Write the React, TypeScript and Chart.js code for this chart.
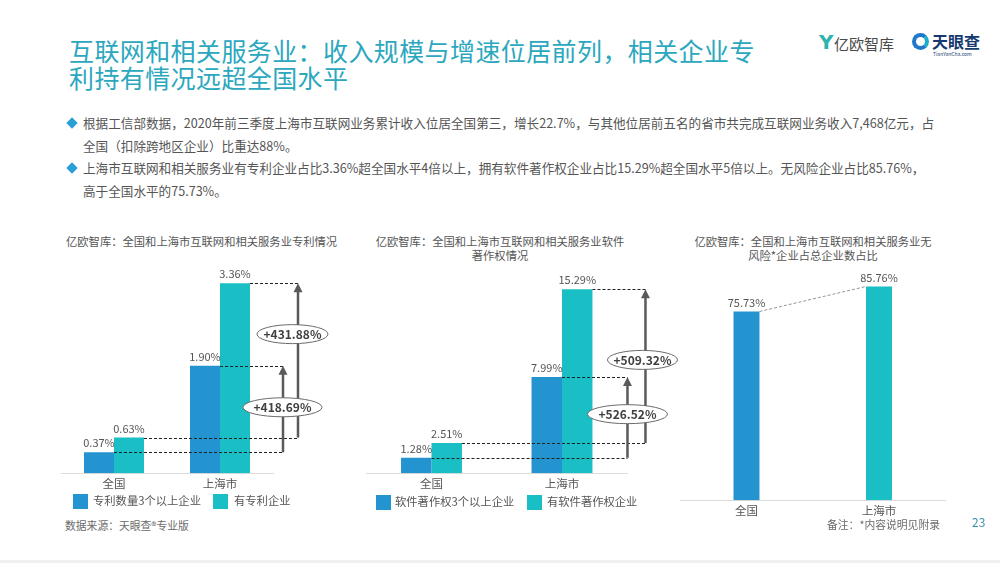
import React, { useEffect, useRef } from "react";
import { Chart, registerables } from "chart.js";
Chart.register(...registerables);

const FONT = '"Noto Sans CJK SC", "Noto Sans", sans-serif';
const BLUE = "#2394CF";
const TEAL = "#19BFC4";
const TEXT = "#555555";

// ---- data ----
const categories = ["全国", "上海市"];

const patentSeriesNames = ["专利数量3个以上企业", "有专利企业"];
const patentMulti = [0.37, 1.9];
const patentAny = [0.63, 3.36];
const patentGrowth = ["+418.69%", "+431.88%"];

const softSeriesNames = ["软件著作权3个以上企业", "有软件著作权企业"];
const softMulti = [1.28, 7.99];
const softAny = [2.51, 15.29];
const softGrowth = ["+526.52%", "+509.32%"];

const riskFreeShare = [75.73, 85.76];

// ---- plugins ----
const valueLabelPlugin = {
  id: "valueLabels",
  afterDatasetsDraw(chart: any) {
    const ctx = chart.ctx;
    ctx.save();
    ctx.font = `11px ${FONT}`;
    ctx.fillStyle = TEXT;
    ctx.textAlign = "center";
    ctx.textBaseline = "middle";
    chart.data.datasets.forEach((ds: any, i: number) => {
      const meta = chart.getDatasetMeta(i);
      meta.data.forEach((bar: any, j: number) => {
        ctx.fillText(Number(ds.data[j]).toFixed(2) + "%", bar.x, bar.y - 9);
      });
    });
    ctx.restore();
  },
};

const growthPlugin = {
  id: "growth",
  afterDatasetsDraw(chart: any, _args: any, opts: any) {
    if (!opts || !opts.labels) return;
    const ctx = chart.ctx;
    const n = chart.data.datasets.length;
    const lastMeta = chart.getDatasetMeta(n - 1);
    const ref = lastMeta.data[1];
    const refRight = ref.x + ref.width / 2;
    ctx.save();
    const arrows: any[] = [];
    for (let i = 0; i < n; i++) {
      const meta = chart.getDatasetMeta(i);
      const ax = refRight + opts.arrowOffsets[i];
      ctx.strokeStyle = "#222";
      ctx.lineWidth = 1;
      ctx.setLineDash([3, 2]);
      meta.data.forEach((bar: any) => {
        ctx.beginPath();
        ctx.moveTo(bar.x + bar.width / 2, Math.round(bar.y) + 0.5);
        ctx.lineTo(ax, Math.round(bar.y) + 0.5);
        ctx.stroke();
      });
      ctx.setLineDash([]);
      arrows.push({ ax, y0: meta.data[0].y, y1: meta.data[1].y });
    }
    arrows.forEach((a) => {
      ctx.strokeStyle = "#5a5a5a";
      ctx.fillStyle = "#5a5a5a";
      ctx.lineWidth = 2.5;
      ctx.beginPath();
      ctx.moveTo(a.ax, a.y0);
      ctx.lineTo(a.ax, a.y1 + 7);
      ctx.stroke();
      ctx.beginPath();
      ctx.moveTo(a.ax, a.y1);
      ctx.lineTo(a.ax - 4.5, a.y1 + 9);
      ctx.lineTo(a.ax + 4.5, a.y1 + 9);
      ctx.closePath();
      ctx.fill();
    });
    arrows.forEach((a, i) => {
      const cx = a.ax + opts.ellipseDx[i];
      const cy = a.y0 + opts.ellipseT[i] * (a.y1 - a.y0);
      ctx.beginPath();
      ctx.ellipse(cx, cy, opts.ellipseW[i] / 2, 9.5, 0, 0, Math.PI * 2);
      ctx.fillStyle = "#ffffff";
      ctx.fill();
      ctx.strokeStyle = "#6a6a6a";
      ctx.lineWidth = 1;
      ctx.stroke();
      ctx.fillStyle = "#404040";
      ctx.font = `bold 12px ${FONT}`;
      ctx.textAlign = "center";
      ctx.textBaseline = "middle";
      ctx.fillText(opts.labels[i], cx, cy + 0.5);
    });
    ctx.restore();
  },
};

const connectorPlugin = {
  id: "connector",
  afterDatasetsDraw(chart: any, _args: any, opts: any) {
    if (!opts || !opts.enabled) return;
    const ctx = chart.ctx;
    const meta = chart.getDatasetMeta(0);
    const a = meta.data[0];
    const b = meta.data[1];
    ctx.save();
    ctx.strokeStyle = "#777";
    ctx.lineWidth = 0.8;
    ctx.setLineDash([3, 2]);
    ctx.beginPath();
    ctx.moveTo(a.x + a.width / 2, a.y);
    ctx.lineTo(b.x - b.width / 2, b.y);
    ctx.stroke();
    ctx.restore();
  },
};

function baseScales(max: number, tickFont = 11.5) {
  return {
    x: {
      grid: { display: false, drawTicks: false },
      border: { display: true, color: "#dcdcdc", width: 1 },
      ticks: { color: TEXT, font: { size: tickFont, family: FONT }, padding: 4 },
    },
    y: { display: false, min: 0, max },
  };
}

function ChartCanvas({ config, left, top, width, height }: any) {
  const ref = useRef<HTMLCanvasElement | null>(null);
  useEffect(() => {
    if (!ref.current) return;
    const c = new Chart(ref.current, config);
    return () => c.destroy();
  }, []);
  return (
    <canvas
      ref={ref}
      width={width}
      height={height}
      style={{ position: "absolute", left, top, width, height }}
    />
  );
}

const patentConfig: any = {
  type: "bar",
  data: {
    labels: categories,
    datasets: [
      { label: patentSeriesNames[0], data: patentMulti, backgroundColor: BLUE },
      { label: patentSeriesNames[1], data: patentAny, backgroundColor: TEAL },
    ],
  },
  options: {
    animation: false,
    responsive: false,
    maintainAspectRatio: false,
    layout: { padding: { left: 21, right: 97, top: 7, bottom: 5 } },
    datasets: { bar: { categoryPercentage: 0.566, barPercentage: 1 } },
    plugins: {
      legend: { display: false },
      tooltip: { enabled: false },
      growth: {
        labels: patentGrowth,
        arrowOffsets: [33, 48],
        ellipseDx: [-0.5, -5.5],
        ellipseT: [0.52, 0.67],
        ellipseW: [79, 71],
      },
    },
    scales: baseScales(4),
  },
  plugins: [valueLabelPlugin, growthPlugin],
};

const softConfig: any = {
  type: "bar",
  data: {
    labels: categories,
    datasets: [
      { label: softSeriesNames[0], data: softMulti, backgroundColor: BLUE },
      { label: softSeriesNames[1], data: softAny, backgroundColor: TEAL },
    ],
  },
  options: {
    animation: false,
    responsive: false,
    maintainAspectRatio: false,
    layout: { padding: { left: 6.25, right: 57.75, top: 16.5, bottom: 5 } },
    datasets: { bar: { categoryPercentage: 0.467, barPercentage: 1 } },
    plugins: {
      legend: { display: false },
      tooltip: { enabled: false },
      growth: {
        labels: softGrowth,
        arrowOffsets: [35, 53],
        ellipseDx: [0, -3],
        ellipseT: [0.54, 0.54],
        ellipseW: [80, 70],
      },
    },
    scales: baseScales(18),
  },
  plugins: [valueLabelPlugin, growthPlugin],
};

const riskConfig: any = {
  type: "bar",
  data: {
    labels: categories,
    datasets: [
      {
        label: "无风险企业占比",
        data: riskFreeShare,
        backgroundColor: [BLUE, TEAL],
      },
    ],
  },
  options: {
    animation: false,
    responsive: false,
    maintainAspectRatio: false,
    layout: { padding: { left: 10.25, right: 14.75, top: 11, bottom: 8 } },
    datasets: { bar: { categoryPercentage: 1, barPercentage: 0.196 } },
    plugins: {
      legend: { display: false },
      tooltip: { enabled: false },
      connector: { enabled: true },
    },
    scales: baseScales(100),
  },
  plugins: [valueLabelPlugin, connectorPlugin],
};

function T({ x, y, size = 12, color = TEXT, children, center = false, bold = false, style = {} }: any) {
  return (
    <div
      style={{
        position: "absolute",
        left: x,
        top: y - size / 2,
        fontSize: size,
        lineHeight: `${size}px`,
        color,
        whiteSpace: "nowrap",
        fontWeight: bold ? 700 : 400,
        transform: center ? "translateX(-50%)" : undefined,
        ...style,
      }}
    >
      {children}
    </div>
  );
}

function Square({ x, y, color }: any) {
  return (
    <div style={{ position: "absolute", left: x, top: y - 7.5, width: 15, height: 15, background: color }} />
  );
}

function Diamond({ x, y }: any) {
  return (
    <div
      style={{
        position: "absolute",
        left: x - 4,
        top: y - 4,
        width: 8,
        height: 8,
        background: "#2A9FD6",
        transform: "rotate(45deg)",
      }}
    />
  );
}

export default function App() {
  const titleColor = "#2BA7BE";
  const bodySize = 12.6;
  return (
    <div
      style={{
        position: "absolute",
        left: 0,
        top: 0,
        width: 1000,
        height: 563,
        background: "#fff",
        fontFamily: FONT,
        overflow: "hidden",
      }}
    >
      {/* title */}
      <T x={69} y={50} size={25} color={titleColor} style={{ letterSpacing: 0.4 }}>
        互联网和相关服务业：收入规模与增速位居前列，相关企业专
      </T>
      <T x={69} y={77} size={25} color={titleColor} style={{ letterSpacing: 0.4 }}>
        利持有情况远超全国水平
      </T>

      {/* logos */}
      <T x={819} y={42} size={20} color="#2fb3b0" bold style={{ fontFamily: "DejaVu Sans" }}>
        Y
      </T>
      <T x={834} y={43} size={15} color="#4a4a4a">
        亿欧智库
      </T>
      <div
        style={{
          position: "absolute",
          left: 912,
          top: 33,
          width: 17,
          height: 17,
          borderRadius: "50%",
          border: "4px solid #1f78c8",
          borderRightColor: "#1bb0c8",
          boxSizing: "border-box",
        }}
      />
      <T x={932} y={41} size={16} color="#163a70" bold>
        天眼查
      </T>
      <T x={933} y={53} size={5} color="#163a70">
        TianYanCha.com
      </T>

      {/* bullets */}
      <Diamond x={72} y={123} />
      <T x={83} y={123} size={bodySize}>
        根据工信部数据，2020年前三季度上海市互联网业务累计收入位居全国第三，增长22.7%，与其他位居前五名的省市共完成互联网业务收入7,468亿元，占
      </T>
      <T x={83} y={146} size={bodySize}>
        全国（扣除跨地区企业）比重达88%。
      </T>
      <Diamond x={72} y={168} />
      <T x={83} y={168} size={bodySize}>
        上海市互联网和相关服务业有专利企业占比3.36%超全国水平4倍以上，拥有软件著作权企业占比15.29%超全国水平5倍以上。无风险企业占比85.76%，
      </T>
      <T x={83} y={191} size={bodySize}>
        高于全国水平的75.73%。
      </T>

      {/* chart titles */}
      <T x={66} y={242} size={11.3}>
        亿欧智库：全国和上海市互联网和相关服务业专利情况
      </T>
      <T x={500} y={242} size={11.3} center>
        亿欧智库：全国和上海市互联网和相关服务业软件
      </T>
      <T x={500} y={256} size={11.3} center>
        著作权情况
      </T>
      <T x={813} y={242} size={11.3} center>
        亿欧智库：全国和上海市互联网和相关服务业无
      </T>
      <T x={813} y={256} size={11.3} center>
        风险*企业占总企业数占比
      </T>

      {/* charts */}
      <ChartCanvas config={patentConfig} left={40} top={240} width={330} height={260} />
      <ChartCanvas config={softConfig} left={360} top={240} width={325} height={260} />
      <ChartCanvas config={riskConfig} left={670} top={240} width={290} height={290} />

      {/* legends */}
      <Square x={73} y={501} color={BLUE} />
      <T x={93} y={501} size={11.3}>
        {patentSeriesNames[0]}
      </T>
      <Square x={213} y={501} color={TEAL} />
      <T x={234} y={501} size={11.3}>
        {patentSeriesNames[1]}
      </T>
      <Square x={376} y={502} color={BLUE} />
      <T x={395} y={502} size={11.3}>
        {softSeriesNames[0]}
      </T>
      <Square x={527} y={502} color={TEAL} />
      <T x={547} y={502} size={11.3}>
        {softSeriesNames[1]}
      </T>

      {/* footer */}
      <T x={65} y={525} size={10.8} color="#6b6b6b">
        数据来源：天眼查®专业版
      </T>
      <T x={827} y={524} size={10.8} color="#6b6b6b">
        备注：*内容说明见附录
      </T>
      <T x={972} y={522} size={12} color="#3d8fae">
        23
      </T>
      <div style={{ position: "absolute", left: 0, top: 560, width: 1000, height: 3, background: "#f0f0f0" }} />
    </div>
  );
}
